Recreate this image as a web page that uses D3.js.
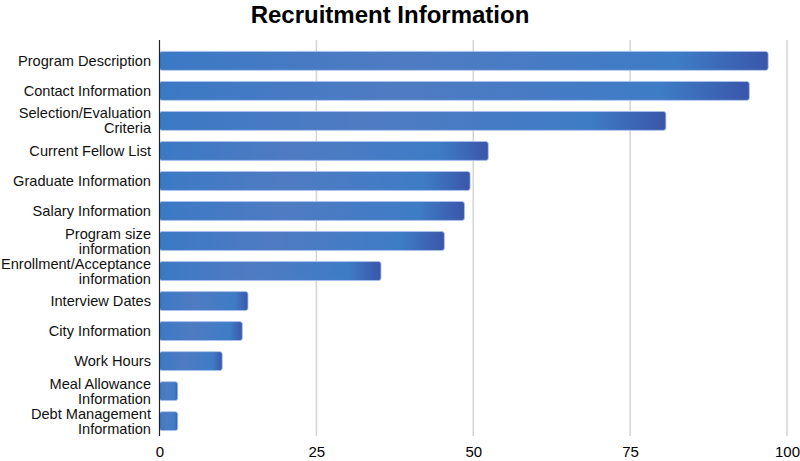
<!DOCTYPE html>
<html>
<head>
<meta charset="utf-8">
<script src="https://cdn.jsdelivr.net/npm/d3@7"></script>
<style>
  body { margin: 0; background: #fff; }
  text { font-family: "Liberation Sans", Arial, sans-serif; }
</style>
</head>
<body>
<svg id="chart" width="800" height="461"></svg>
<script>
let categories = [
  "Program Description", "Contact Information", "Selection/Evaluation\nCriteria",
  "Current Fellow List", "Graduate Information", "Salary Information",
  "Program size\ninformation", "Enrollment/Acceptance\ninformation", "Interview Dates",
  "City Information", "Work Hours", "Meal Allowance\nInformation", "Debt Management\nInformation"
];
let values = [97, 94, 80.7, 52.4, 49.5, 48.6, 45.4, 35.3, 14.1, 13.2, 10, 2.9, 2.9];
let ticks = [0, 25, 50, 75, 100];

let svg = d3.select("#chart");
let margin = { top: 46, left: 159.5, right: 13, bottom: 25 };
let width = +svg.attr("width");
let height = +svg.attr("height");

let x = d3.scaleLinear().domain([0, 100]).range([margin.left, width - margin.right]);
let y = d3.scaleBand().domain(categories).range([margin.top, height - margin.bottom]).paddingInner(0.37).paddingOuter(0.18);

// gradient for bars
let defs = svg.append("defs");
let grad = defs.append("linearGradient").attr("id", "barGrad").attr("x1", 0).attr("x2", 1).attr("y1", 0).attr("y2", 0);
grad.append("stop").attr("offset", "0%").attr("stop-color", "#3b79c5");
grad.append("stop").attr("offset", "40%").attr("stop-color", "#4f7bc2");
grad.append("stop").attr("offset", "85%").attr("stop-color", "#3e7cc6");
grad.append("stop").attr("offset", "100%").attr("stop-color", "#3a56aa");

svg.append("text")
  .attr("x", 390).attr("y", 22.5)
  .attr("text-anchor", "middle")
  .attr("font-size", 24).attr("font-weight", "bold")
  .text("Recruitment Information");

// grid lines
svg.append("g").selectAll("line")
  .data(ticks.slice(1))
  .join("line")
  .attr("x1", d => x(d)).attr("x2", d => x(d))
  .attr("y1", 40).attr("y2", height - margin.bottom)
  .attr("stroke", "#d4d4d4").attr("stroke-width", 1.5);

// bars
svg.append("g").selectAll("rect")
  .data(categories)
  .join("rect")
  .attr("x", x(0))
  .attr("y", d => y(d))
  .attr("height", y.bandwidth())
  .attr("width", (d, i) => x(values[i]) - x(0))
  .attr("rx", 2.5)
  .attr("fill", "url(#barGrad)")
  .attr("stroke", "#a9c4ee").attr("stroke-width", 0.8);

// category labels
let labels = svg.append("g").selectAll("text")
  .data(categories)
  .join("text")
  .attr("text-anchor", "end")
  .attr("font-size", 14.6)
  .attr("fill", "#111");
labels.each(function(d) {
  let lines = d.split("\n");
  let cy = y(d) + y.bandwidth() / 2;
  let t = d3.select(this);
  lines.forEach((ln, k) => {
    t.append("tspan")
      .attr("x", 151)
      .attr("y", cy + 5 + (k - (lines.length - 1) / 2) * 15)
      .text(ln);
  });
});

// x axis labels
let xAxis = d3.axisBottom(x).tickValues(ticks).tickSize(0).tickPadding(10);
svg.append("g")
  .attr("transform", `translate(0, ${height - margin.bottom})`)
  .call(xAxis)
  .call(g => g.select(".domain").remove())
  .call(g => g.selectAll("text").attr("font-size", 15).attr("fill", "#000")
    .style("font-family", "'Liberation Sans', Arial, sans-serif"));

// left axis line
svg.append("line")
  .attr("x1", x(0)).attr("x2", x(0))
  .attr("y1", 40).attr("y2", height - margin.bottom)
  .attr("stroke", "#222").attr("stroke-width", 1.2);
</script>
</body>
</html>
